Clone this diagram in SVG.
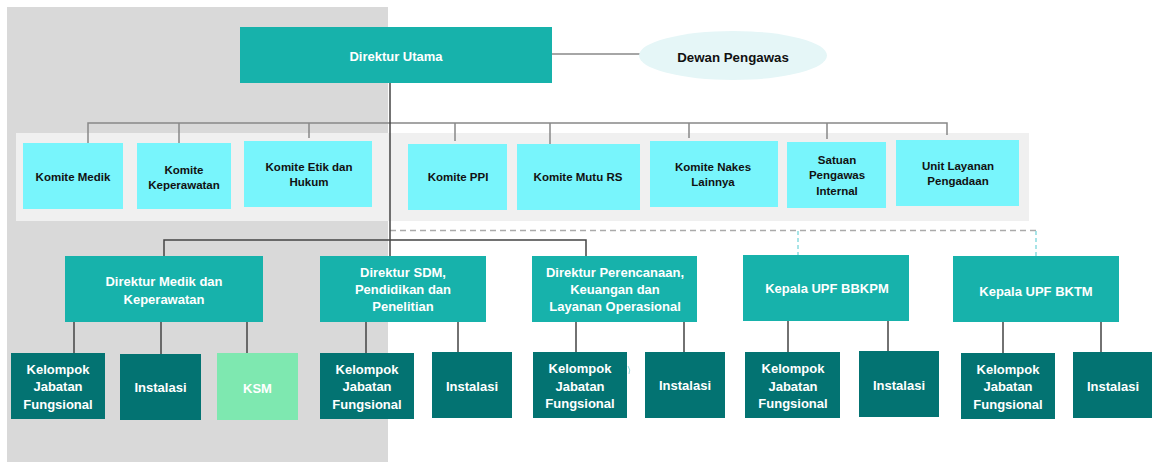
<svg xmlns="http://www.w3.org/2000/svg" width="1152" height="462" viewBox="0 0 1152 462">
<style>
text{font-family:"Liberation Sans",Arial,sans-serif;font-weight:bold;text-anchor:middle}
.top{fill:#17b2ab}
.kom{fill:#78f5fc}
.komt{fill:#111;font-size:11.5px}
.dir{fill:#17b2ab}
.dirt{fill:#fff;font-size:13px}
.sub{fill:#037372}
.subt{fill:#fff;font-size:13px}
.ksm{fill:#7ee8b0}
.ln{stroke:#888;stroke-width:1.5;fill:none}
.dk{stroke:#444;stroke-width:1.5;fill:none}
.dash{stroke:#aaa;stroke-width:1.5;stroke-dasharray:6 4;fill:none}
.cy{stroke:#8adbe0;stroke-width:1.5;stroke-dasharray:4 3;fill:none}
</style>
<rect width="1152" height="462" fill="#fff"/>
<rect x="7" y="7" width="381" height="455" fill="#d9d9d9"/>
<rect x="16" y="133" width="1013" height="88" fill="#f0f0f0"/>
<g id="connectors">
<line class="ln" x1="552" y1="54" x2="640" y2="54"/>
<path class="ln" d="M88 143V123H947V135M179 143V123M309 138V123M455 141V123M550 144V123M689 138V123M827 139V123"/>
<line class="dash" x1="390" y1="230.5" x2="1036" y2="230.5"/>
<line class="cy" x1="798" y1="231" x2="798" y2="255"/>
<line class="cy" x1="1036" y1="231" x2="1036" y2="256"/>
<path class="dk" d="M164 256V240H586V256"/>
<line class="dk" x1="390" y1="83" x2="390" y2="256"/>
<path class="dk" d="M74 322V357M161 322V355M247 322V353M366 322V353M458 322V352M576 322V352M684 322V352M788 321V352M888 321V351M1003 322V353M1101 322V352"/>
<path d="M628 366q3 4 1 8" stroke="#9ddde0" stroke-width="1" fill="none"/>
</g>
<g id="direktur-utama"><rect class="top" x="240" y="27" width="312" height="56"/><text class="dirt" x="396" y="60.5">Direktur Utama</text></g>
<g id="dewan-pengawas"><ellipse cx="733" cy="55.5" rx="94" ry="24.5" fill="#e5f6f7"/><text x="733" y="61.5" font-size="13.3" fill="#111">Dewan Pengawas</text></g>
<g id="komite-medik"><rect class="kom" x="23" y="143" width="100" height="66"/><text class="komt" x="73" y="181">Komite Medik</text></g>
<g id="komite-keperawatan"><rect class="kom" x="137" y="143" width="94" height="66"/><text class="komt" x="184" y="174">Komite</text><text class="komt" x="184" y="189">Keperawatan</text></g>
<g id="komite-etik"><rect class="kom" x="244" y="141" width="128" height="66"/><text class="komt" x="309" y="171">Komite Etik dan</text><text class="komt" x="309" y="186">Hukum</text></g>
<g id="komite-ppi"><rect class="kom" x="408" y="144" width="99" height="66"/><text class="komt" x="458" y="181">Komite PPI</text></g>
<g id="komite-mutu"><rect class="kom" x="517" y="144" width="123" height="66"/><text class="komt" x="578" y="181">Komite Mutu RS</text></g>
<g id="komite-nakes"><rect class="kom" x="650" y="141" width="128" height="66"/><text class="komt" x="713" y="171">Komite Nakes</text><text class="komt" x="713" y="186">Lainnya</text></g>
<g id="spi"><rect class="kom" x="787" y="142" width="99" height="66"/><text class="komt" x="837" y="164">Satuan</text><text class="komt" x="837" y="179">Pengawas</text><text class="komt" x="837" y="195">Internal</text></g>
<g id="ulp"><rect class="kom" x="896" y="140" width="123" height="66"/><text class="komt" x="958" y="170">Unit Layanan</text><text class="komt" x="958" y="185">Pengadaan</text></g>
<g id="dir-medik"><rect class="dir" x="65" y="256" width="198" height="66"/><text class="dirt" x="164" y="286">Direktur Medik dan</text><text class="dirt" x="164" y="303.5">Keperawatan</text></g>
<g id="dir-sdm"><rect class="dir" x="320" y="256" width="166" height="66"/><text class="dirt" x="403" y="276.5">Direktur SDM,</text><text class="dirt" x="403" y="293.5">Pendidikan dan</text><text class="dirt" x="403" y="311">Penelitian</text></g>
<g id="dir-perencanaan"><rect class="dir" x="532" y="256" width="165" height="66"/><text class="dirt" x="615" y="276.5">Direktur Perencanaan,</text><text class="dirt" x="615" y="293.5">Keuangan dan</text><text class="dirt" x="615" y="311">Layanan Operasional</text></g>
<g id="upf-bbkpm"><rect class="dir" x="743" y="255" width="166" height="66"/><text class="dirt" x="827" y="292.5">Kepala UPF BBKPM</text></g>
<g id="upf-bktm"><rect class="dir" x="953" y="256" width="166" height="66"/><text class="dirt" x="1036" y="295.5">Kepala UPF BKTM</text></g>
<g id="medik-kjf"><rect class="sub" x="11" y="353" width="94" height="66"/><text class="subt" x="58" y="373.5">Kelompok</text><text class="subt" x="58" y="391">Jabatan</text><text class="subt" x="58" y="408.5">Fungsional</text></g>
<g id="medik-instalasi"><rect class="sub" x="120" y="354" width="81" height="66"/><text class="subt" x="160.5" y="391.5">Instalasi</text></g>
<g id="medik-ksm"><rect class="ksm" x="217" y="353" width="81" height="67"/><text class="subt" x="257.5" y="392.5">KSM</text></g>
<g id="sdm-kjf"><rect class="sub" x="320" y="353" width="94" height="66"/><text class="subt" x="367" y="373.5">Kelompok</text><text class="subt" x="367" y="391">Jabatan</text><text class="subt" x="367" y="408.5">Fungsional</text></g>
<g id="sdm-instalasi"><rect class="sub" x="432" y="352" width="80" height="66"/><text class="subt" x="472" y="391">Instalasi</text></g>
<g id="ren-kjf"><rect class="sub" x="533" y="352" width="94" height="66"/><text class="subt" x="580" y="373">Kelompok</text><text class="subt" x="580" y="390.5">Jabatan</text><text class="subt" x="580" y="408">Fungsional</text></g>
<g id="ren-instalasi"><rect class="sub" x="645" y="352" width="80" height="66"/><text class="subt" x="685" y="389.5">Instalasi</text></g>
<g id="bbkpm-kjf"><rect class="sub" x="745" y="352" width="95" height="66"/><text class="subt" x="793" y="373">Kelompok</text><text class="subt" x="793" y="390.5">Jabatan</text><text class="subt" x="793" y="408">Fungsional</text></g>
<g id="bbkpm-instalasi"><rect class="sub" x="859" y="351" width="80" height="66"/><text class="subt" x="899" y="389.5">Instalasi</text></g>
<g id="bktm-kjf"><rect class="sub" x="961" y="353" width="94" height="66"/><text class="subt" x="1008" y="373.5">Kelompok</text><text class="subt" x="1008" y="391">Jabatan</text><text class="subt" x="1008" y="408.5">Fungsional</text></g>
<g id="bktm-instalasi"><rect class="sub" x="1073" y="352" width="80" height="66"/><text class="subt" x="1113" y="390.5">Instalasi</text></g>
</svg>
